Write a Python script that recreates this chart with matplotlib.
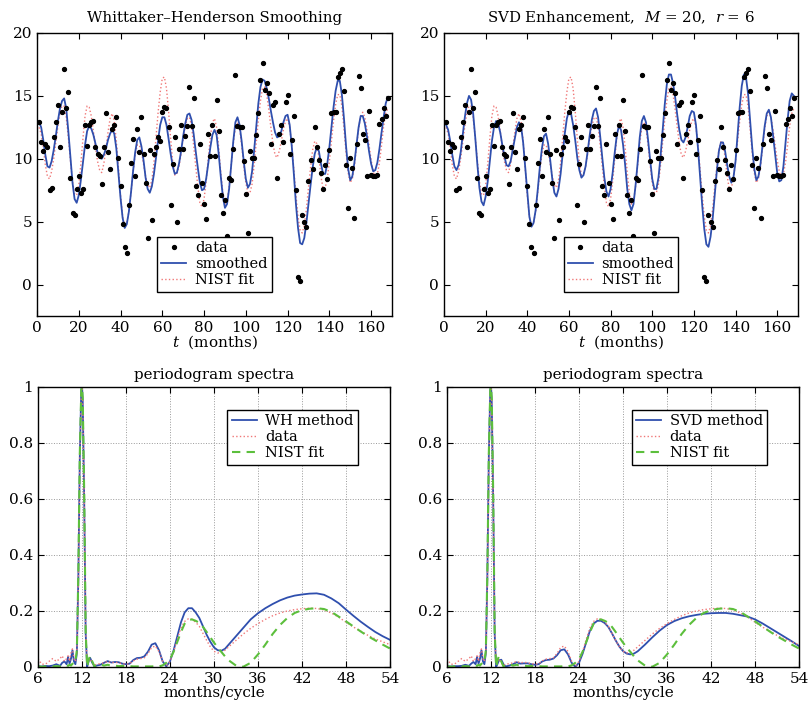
import numpy as np
import matplotlib
matplotlib.use("Agg")
import matplotlib.pyplot as plt

plt.rcParams['font.family'] = ['DejaVu Serif']
plt.rcParams['mathtext.fontset'] = 'dejavuserif'
plt.rcParams['font.size'] = 11

# monthly data, t = 1..168
months = np.arange(1, 169)
data = [12.9, 11.3, 10.6, 11.2, 10.9, 7.5, 7.7, 11.7, 12.9, 14.3, 10.9, 13.7, 17.1, 14.0, 15.3, 8.5,
        5.7, 5.5, 7.6, 8.6, 7.3, 7.6, 12.7, 11.0, 12.7, 12.9, 13.0, 10.9, 10.4, 10.2, 8.0, 10.9,
        13.6, 10.5, 9.2, 12.4, 12.7, 13.3, 10.1, 7.8, 4.8, 3.0, 2.5, 6.3, 9.7, 11.6, 8.6, 12.4,
        10.5, 13.3, 10.4, 8.1, 3.7, 10.7, 5.1, 10.4, 10.9, 11.7, 11.4, 13.7, 14.1, 14.0, 12.5, 6.3,
        9.6, 11.7, 5.0, 10.8, 12.7, 10.8, 11.8, 12.6, 15.7, 12.6, 14.8, 7.8, 7.1, 11.2, 8.1, 6.4,
        5.2, 12.0, 10.2, 12.7, 10.2, 14.7, 12.2, 7.1, 5.7, 6.7, 3.9, 8.5, 8.3, 10.8, 16.7, 12.6,
        12.5, 12.5, 9.8, 7.2, 4.1, 10.6, 10.1, 10.1, 11.9, 13.6, 16.3, 17.6, 15.5, 16.0, 15.2, 11.2,
        14.3, 14.5, 8.5, 12.0, 12.7, 11.3, 14.5, 15.1, 10.4, 11.5, 13.4, 7.5, 0.6, 0.3, 5.5, 5.0,
        4.6, 8.2, 9.9, 9.2, 12.5, 10.9, 9.9, 8.9, 7.6, 9.5, 8.4, 10.7, 13.6, 13.7, 13.7, 16.5,
        16.8, 17.1, 15.4, 9.5, 6.1, 10.1, 9.3, 5.3, 11.2, 16.6, 15.6, 12.0, 11.5, 8.6, 13.8, 8.7,
        8.6, 8.6, 8.7, 12.8, 13.2, 14.0, 13.4, 14.8]

wh_smooth = [12.9, 12.5, 11.5, 10.3, 9.4, 9.3, 9.8, 10.7, 11.8, 13.0, 14.0, 14.6,
             14.8, 14.0, 12.2, 10.1, 8.1, 6.8, 6.5, 7.1, 8.3, 9.7, 11.1, 12.2, 12.6,
             12.4, 11.9, 11.2, 10.5, 10.1, 10.0, 10.3, 10.8, 11.5, 12.0, 12.3,
             12.0, 10.8, 8.9, 6.9, 5.3, 4.5, 4.8, 5.8, 7.3, 9.0, 10.5, 11.5,
             11.7, 11.0, 9.9, 8.5, 7.6, 7.3, 7.8, 8.8, 10.1, 11.5, 12.7, 13.3,
             13.3, 12.7, 11.6, 10.4, 9.4, 8.8, 8.9, 9.6, 10.6, 11.8, 12.8, 13.5,
             13.6, 13.1, 12.0, 10.6, 9.3, 8.1, 7.5, 7.6, 8.4, 9.6, 10.9, 11.9, 12.3,
             11.9, 10.4, 8.6, 7.0, 6.1, 6.4, 7.6, 9.5, 11.4, 12.9, 13.3,
             12.7, 11.4, 9.8, 8.4, 7.7, 8.0, 9.0, 10.7, 12.6, 14.4, 15.7, 16.3,
             16.2, 15.6, 14.8, 13.8, 12.9, 12.1, 11.7, 11.8, 12.2, 12.9, 13.4,
             13.5, 12.7, 11.0, 8.8, 6.4, 4.5, 3.3, 3.2, 3.7, 4.9, 6.4, 7.9, 9.3, 10.4, 10.9,
             10.6, 9.6, 8.8, 8.8, 9.6, 10.9, 12.5, 14.1, 15.4, 16.2,
             16.2, 15.1, 13.2, 11.0, 9.2, 8.3, 8.6, 9.7, 11.1, 12.5, 13.4,
             13.4, 12.8, 11.8, 10.6, 9.6, 9.0, 9.1, 9.7, 10.8, 12.1, 13.3, 14.4, 14.9]

svd_smooth = [12.7, 12.3, 11.4, 10.3, 9.4, 9.1, 9.5, 10.5, 11.9, 13.3, 14.4, 15.0,
              14.7, 13.6, 11.7, 9.6, 7.7, 6.6, 6.3, 7.0, 8.2, 9.8, 11.4, 12.5, 13.0,
              12.8, 12.1, 11.1, 10.2, 9.5, 9.4, 9.8, 10.7, 11.6, 12.5, 12.9,
              12.6, 11.3, 9.3, 7.2, 5.4, 4.6, 4.9, 5.9, 7.5, 9.3, 10.8, 11.8,
              12.0, 11.2, 9.9, 8.4, 7.3, 7.0, 7.6, 8.8, 10.4, 12.0, 13.2, 13.8,
              13.6, 12.7, 11.5, 10.1, 9.1, 8.5, 8.7, 9.4, 10.6, 11.9, 13.1, 13.8,
              14.0, 13.3, 11.8, 10.1, 8.5, 7.4, 7.0, 7.6, 8.9, 10.5, 11.9, 12.6,
              12.3, 11.1, 9.5, 7.6, 6.4, 5.9, 6.4, 7.9, 9.7, 11.7, 13.0, 13.4,
              12.9, 11.5, 9.9, 8.4, 7.6, 7.6, 8.5, 10.2, 12.2, 14.3, 15.9, 16.7,
              16.7, 16.0, 14.9, 13.5, 12.3, 11.5, 11.3, 11.7, 12.5, 13.4, 13.8,
              13.7, 12.7, 10.8, 8.6, 6.3, 4.4, 3.2, 3.0, 3.8, 5.2, 7.1, 9.0, 10.6, 11.3,
              11.3, 10.6, 9.5, 8.6, 8.1, 8.5, 9.8, 11.9, 14.1, 15.8, 16.7,
              16.5, 15.2, 13.1, 10.9, 9.2, 8.3, 8.6, 9.6, 11.1, 12.6, 13.6,
              13.9, 13.3, 11.9, 10.4, 8.9, 8.2, 8.3, 9.4, 11.3, 13.1, 14.6, 15.2, 15.0]

nist_fit = [12.5, 12.0, 10.9, 9.5, 8.6, 8.4, 9.0, 10.0, 11.3, 12.6, 13.7, 14.2,
            14.2, 13.3, 11.7, 9.9, 8.2, 7.2, 7.1, 7.9, 9.6, 11.6, 13.4, 14.2,
            14.1, 13.4, 12.2, 10.9, 9.8, 9.1, 8.9, 9.6, 10.8, 12.1, 13.2, 13.6,
            13.0, 11.4, 9.3, 7.1, 5.4, 4.6, 4.9, 5.8, 7.3, 9.0, 10.3, 11.1,
            11.1, 10.6, 9.6, 8.6, 7.9, 7.7, 8.3, 9.7, 11.7, 13.7, 15.3, 16.4,
            16.5, 15.6, 13.8, 11.6, 9.7, 8.7, 8.8, 9.4, 10.4, 11.6, 12.6, 13.2,
            13.3, 12.6, 11.1, 9.4, 7.8, 6.5, 6.2, 6.8, 8.2, 10.0, 11.7, 12.9, 13.2,
            12.5, 10.9, 8.9, 7.3, 6.4, 6.6, 7.8, 9.5, 11.2, 12.5, 12.9,
            12.4, 11.1, 9.5, 8.1, 7.3, 7.3, 8.0, 9.5, 11.3, 13.1, 14.6, 15.6,
            15.7, 15.1, 13.9, 12.5, 11.2, 10.3, 10.1, 10.6, 11.4, 12.3, 13.0,
            13.2, 12.5, 11.1, 9.1, 7.1, 5.4, 4.3, 4.1, 4.7, 6.0, 7.7, 9.3, 10.7, 11.4,
            11.2, 10.1, 8.6, 7.6, 7.7, 8.4, 9.8, 11.4, 13.0, 14.3, 15.1,
            15.1, 14.2, 12.4, 10.5, 8.9, 8.1, 8.4, 9.4, 10.9, 12.4, 13.4,
            13.7, 13.3, 12.3, 11.1, 9.9, 9.0, 8.5, 8.8, 9.7, 11.1, 12.6, 13.6, 14.0]

# periodogram spectra vs period (months/cycle)
period = [6, 6.5, 7, 7.5, 8, 8.5, 9, 9.3, 9.6, 9.9,
          10.1, 10.3, 10.5, 10.7, 10.9, 11.1, 11.3, 11.5, 11.7, 11.9,
          12.0, 12.1, 12.3, 12.5, 12.7, 12.9, 13.1, 13.4, 13.7, 14,
          14.5, 15, 15.5, 16, 16.5, 17, 17.5, 18, 18.5, 19,
          19.5, 20, 20.5, 21, 21.5, 22, 22.5, 23, 23.5, 24,
          24.5, 25, 25.5, 26, 26.5, 27, 27.5, 28, 28.5, 29,
          29.5, 30, 30.5, 31, 31.5, 32, 33, 34, 35, 36,
          37, 38, 39, 40, 41, 42, 43, 44, 45, 46,
          47, 48, 49, 50, 51, 52, 53, 54]

spec_wh = [0.003, 0.002, 0.004, 0.003, 0.005, 0.010, 0.004, 0.015, 0.020, 0.010,
           0.036, 0.012, 0.030, 0.060, 0.020, 0.010, 0.050, 0.320, 0.750, 0.990,
           1.000, 0.950, 0.600, 0.120, 0.000, 0.020, 0.033, 0.015, 0.002, 0.005,
           0.008, 0.015, 0.021, 0.016, 0.018, 0.017, 0.012, 0.010, 0.012, 0.025,
           0.032, 0.033, 0.038, 0.055, 0.080, 0.085, 0.060, 0.020, 0.002, 0.020,
           0.060, 0.110, 0.160, 0.195, 0.210, 0.210, 0.195, 0.175, 0.145, 0.115,
           0.090, 0.070, 0.060, 0.058, 0.065, 0.080, 0.110, 0.140, 0.170, 0.192,
           0.210, 0.225, 0.238, 0.248, 0.255, 0.259, 0.262, 0.263, 0.258, 0.245,
           0.228, 0.205, 0.183, 0.162, 0.143, 0.125, 0.110, 0.097]

spec_data = [0.030, 0.010, 0.010, 0.020, 0.030, 0.020, 0.030, 0.040, 0.020, 0.030,
             0.040, 0.020, 0.050, 0.065, 0.030, 0.020, 0.050, 0.300, 0.740, 0.980,
             1.000, 0.950, 0.600, 0.130, 0.010, 0.020, 0.030, 0.015, 0.005, 0.010,
             0.012, 0.015, 0.020, 0.015, 0.017, 0.015, 0.012, 0.010, 0.012, 0.022,
             0.028, 0.030, 0.033, 0.048, 0.070, 0.075, 0.055, 0.020, 0.004, 0.020,
             0.055, 0.100, 0.140, 0.163, 0.172, 0.170, 0.160, 0.145, 0.120, 0.095,
             0.072, 0.056, 0.050, 0.052, 0.060, 0.072, 0.095, 0.118, 0.138, 0.155,
             0.170, 0.183, 0.193, 0.200, 0.205, 0.208, 0.210, 0.209, 0.204, 0.193,
             0.178, 0.160, 0.143, 0.128, 0.113, 0.100, 0.090, 0.080]

spec_nist = [0.002, 0.001, 0.002, 0.001, 0.002, 0.003, 0.002, 0.004, 0.003, 0.006,
             0.004, 0.008, 0.005, 0.012, 0.010, 0.020, 0.060, 0.330, 0.760, 0.990,
             1.000, 0.960, 0.620, 0.130, 0.000, 0.025, 0.040, 0.020, 0.002, 0.008,
             0.010, 0.005, 0.008, 0.004, 0.005, 0.003, 0.004, 0.002, 0.003, 0.002,
             0.002, 0.002, 0.002, 0.002, 0.002, 0.003, 0.002, 0.006, 0.015, 0.028,
             0.055, 0.090, 0.125, 0.155, 0.168, 0.170, 0.165, 0.158, 0.143, 0.125,
             0.106, 0.087, 0.070, 0.054, 0.038, 0.024, 0.005, 0.001, 0.015, 0.045,
             0.080, 0.118, 0.150, 0.175, 0.193, 0.203, 0.208, 0.210, 0.207, 0.197,
             0.180, 0.163, 0.145, 0.127, 0.110, 0.095, 0.080, 0.066]

spec_svd = [0.003, 0.002, 0.003, 0.003, 0.004, 0.008, 0.004, 0.012, 0.018, 0.010,
            0.036, 0.012, 0.030, 0.060, 0.020, 0.010, 0.050, 0.320, 0.750, 0.990,
            1.000, 0.950, 0.600, 0.120, 0.000, 0.012, 0.024, 0.026, 0.010, 0.002,
            0.005, 0.010, 0.017, 0.012, 0.013, 0.013, 0.010, 0.008, 0.010, 0.020,
            0.025, 0.026, 0.030, 0.042, 0.060, 0.063, 0.045, 0.015, 0.001, 0.015,
            0.048, 0.090, 0.130, 0.155, 0.165, 0.165, 0.157, 0.143, 0.120, 0.095,
            0.073, 0.057, 0.048, 0.045, 0.048, 0.056, 0.080, 0.106, 0.130, 0.150,
            0.164, 0.174, 0.181, 0.186, 0.190, 0.192, 0.193, 0.193, 0.190, 0.185,
            0.180, 0.170, 0.156, 0.140, 0.124, 0.108, 0.092, 0.075]

BLUE = '#2f4fae'
RED = '#f07878'
GREEN = '#5cbf3c'


def style_axes(ax):
    ax.tick_params(direction='in', top=True, right=True, length=4, width=0.8)
    for s in ax.spines.values():
        s.set_linewidth(1.0)


def legend(ax, **kw):
    leg = ax.legend(fancybox=False, framealpha=1, edgecolor='black', fontsize=10.5,
                    borderpad=0.3, labelspacing=0.15, handlelength=1.7,
                    handletextpad=0.6, **kw)
    leg.get_frame().set_linewidth(1.0)
    return leg


fig = plt.figure(figsize=(8.09, 7.04), dpi=100)
W, H = 809, 704


def add_axes(x0, y0, x1, y1):
    # pixel box -> figure fraction
    return fig.add_axes([x0 / W, 1 - y1 / H, (x1 - x0) / W, (y1 - y0) / H])


# time series panels
top_axes = [add_axes(37, 33, 392, 316), add_axes(444, 33, 798, 316)]
titles = ['Whittaker\u2013Henderson Smoothing', 'SVD Enhancement,  $M$ = 20,  $r$ = 6']
for ax, smooth, title in zip(top_axes, [wh_smooth, svd_smooth], titles):
    ax.plot(months, data, 'o', color='black', ms=2.8, label='data', zorder=3)
    ax.plot(months, smooth, color=BLUE, lw=1.3, label='smoothed', zorder=2)
    ax.plot(months, nist_fit, ':', color=RED, lw=1.0, label='NIST fit', zorder=1)
    ax.set_xlim(0, 170)
    ax.set_ylim(-2.5, 20)
    ax.set_xticks(range(0, 161, 20))
    ax.set_yticks([0, 5, 10, 15, 20])
    ax.set_title(title, fontsize=10.8, pad=8)
    ax.set_xlabel('$t$  (months)', labelpad=-1)
    style_axes(ax)
    legend(ax, loc='lower center', bbox_to_anchor=(0.5, 0.06))

# spectra panels
bot_axes = [add_axes(38, 387, 390, 667), add_axes(447, 387, 799, 667)]
for ax, spec, name in zip(bot_axes, [spec_wh, spec_svd], ['WH method', 'SVD method']):
    ax.plot(period, spec, color=BLUE, lw=1.3, label=name)
    ax.plot(period, spec_data, ':', color=RED, lw=1.0, label='data')
    ax.plot(period, spec_nist, '--', color=GREEN, lw=1.5, dashes=(4, 3), label='NIST fit')
    ax.set_xlim(6, 54)
    ax.set_ylim(0, 1)
    ax.set_xticks(range(6, 55, 6))
    ax.set_yticks([0, 0.2, 0.4, 0.6, 0.8, 1])
    ax.set_yticklabels(['0', '0.2', '0.4', '0.6', '0.8', '1'])
    ax.grid(True, linestyle=':', color='#999999', linewidth=0.7)
    ax.set_title('periodogram spectra', fontsize=10.8, pad=6)
    ax.set_xlabel('months/cycle', labelpad=0)
    style_axes(ax)
    legend(ax, loc='upper right', bbox_to_anchor=(0.93, 0.945))

fig.savefig('out.png', dpi=100)
